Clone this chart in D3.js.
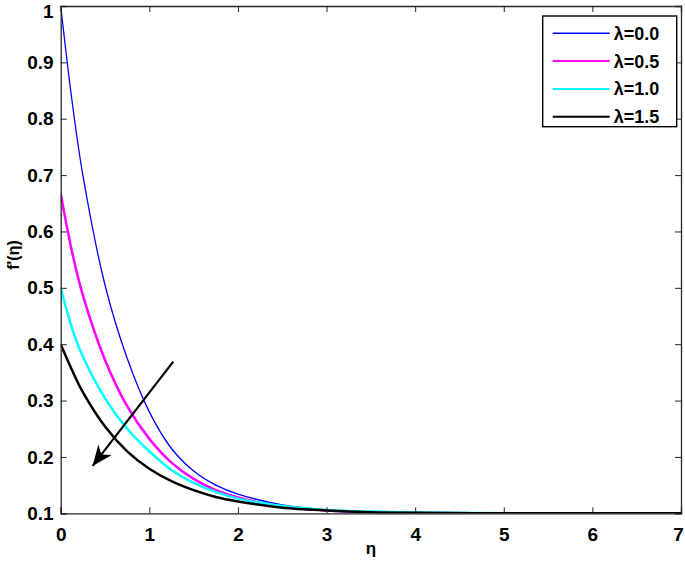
<!DOCTYPE html>
<html>
<head>
<meta charset="utf-8">
<script src="https://cdn.jsdelivr.net/npm/d3@7"></script>
<style>
  html, body { margin: 0; padding: 0; background: #fff; }
  svg { display: block; font-family: "Liberation Sans", Arial, sans-serif; }
</style>
</head>
<body>
<div id="chart"></div>
<script>
// values
const eta = [0, 0.125, 0.25, 0.5, 0.75, 1, 1.25, 1.5, 1.75, 2, 2.5, 3, 3.5, 4, 5, 6, 7];
const lambda00 = [1.0, 0.835, 0.70, 0.505, 0.375, 0.28, 0.215, 0.175, 0.15, 0.134, 0.115, 0.106, 0.102, 0.101, 0.1, 0.1, 0.1];
const lambda05 = [0.667, 0.566, 0.487, 0.372, 0.29, 0.232, 0.19, 0.161, 0.141, 0.128, 0.112, 0.105, 0.102, 0.101, 0.1, 0.1, 0.1];
const lambda10 = [0.5, 0.43, 0.378, 0.304, 0.25, 0.21, 0.177, 0.154, 0.138, 0.126, 0.113, 0.106, 0.103, 0.1015, 0.1, 0.1, 0.1];
const lambda15 = [0.4, 0.355, 0.315, 0.254, 0.21, 0.179, 0.157, 0.141, 0.129, 0.121, 0.11, 0.105, 0.102, 0.101, 0.1, 0.1, 0.1];

const seriesNames = ["\u03bb=0.0", "\u03bb=0.5", "\u03bb=1.0", "\u03bb=1.5"];
const seriesColors = ["#0000ff", "#ff00ff", "#00ffff", "#000000"];
const seriesWidths = [1.3, 2.5, 2.5, 2.5];
const xTicks = [0, 1, 2, 3, 4, 5, 6, 7];
const yTicks = [0.1, 0.2, 0.3, 0.4, 0.5, 0.6, 0.7, 0.8, 0.9, 1];

// arrow showing the direction of increasing lambda (start, tip) in data units
const arrowFrom = [1.27, 0.369];
const arrowTo = [0.36, 0.184];

const W = 685, H = 565;
const margin = { left: 60.7, right: 4, top: 6, bottom: 51.7 };

const svg = d3.select("#chart").append("svg")
  .attr("width", W)
  .attr("height", H);

const x = d3.scaleLinear().domain([0, 7]).range([margin.left, W - margin.right]);
const y = d3.scaleLinear().domain([0.1, 1]).range([H - margin.bottom, margin.top]);

const defs = svg.append("defs");
defs.append("clipPath").attr("id", "plot-clip")
  .append("rect")
  .attr("x", x(0)).attr("y", y(1))
  .attr("width", x(7) - x(0)).attr("height", y(0.1) - y(1));

defs.append("marker")
  .attr("id", "arrow-head")
  .attr("viewBox", "0 -5 12 10")
  .attr("refX", 12)
  .attr("refY", 0)
  .attr("markerUnits", "userSpaceOnUse")
  .attr("markerWidth", 21)
  .attr("markerHeight", 17)
  .attr("orient", "auto")
  .append("path")
  .attr("d", "M0,-5L12,0L0,5L3.5,0Z")
  .attr("fill", "#000");

// curves
const allSeries = [lambda00, lambda05, lambda10, lambda15];
const line = d3.line()
  .x((d, i) => x(eta[i]))
  .y((d) => y(d))
  .curve(d3.curveCatmullRom.alpha(0.5));

svg.append("g")
  .attr("clip-path", "url(#plot-clip)")
  .selectAll("path")
  .data(allSeries)
  .join("path")
  .attr("d", (d) => line(d))
  .attr("fill", "none")
  .attr("stroke", (d, i) => seriesColors[i])
  .attr("stroke-width", (d, i) => seriesWidths[i]);

// arrow
svg.append("line")
  .attr("x1", x(arrowFrom[0])).attr("y1", y(arrowFrom[1]))
  .attr("x2", x(arrowTo[0])).attr("y2", y(arrowTo[1]))
  .attr("stroke", "#000")
  .attr("stroke-width", 2.2)
  .attr("marker-end", "url(#arrow-head)");

// axes: ticks inward, matlab style box
const tickLen = 6;
const axisColor = "#262626";

const xAxis = svg.append("g")
  .attr("transform", `translate(0,${y(0.1)})`)
  .call(d3.axisBottom(x).tickValues(xTicks).tickSize(-tickLen).tickPadding(14).tickFormat(d3.format("d")));
const yAxis = svg.append("g")
  .attr("transform", `translate(${x(0)},0)`)
  .call(d3.axisLeft(y).tickValues(yTicks).tickSize(-tickLen).tickPadding(7).tickFormat((d) => d === 1 ? "1" : d3.format(".1f")(d)));
const xTop = svg.append("g")
  .attr("transform", `translate(0,${y(1)})`)
  .call(d3.axisTop(x).tickValues(xTicks).tickSize(-tickLen).tickFormat(""));
const yRight = svg.append("g")
  .attr("transform", `translate(${x(7)},0)`)
  .call(d3.axisRight(y).tickValues(yTicks).tickSize(-tickLen).tickFormat(""));

[xAxis, yAxis, xTop, yRight].forEach((g) => {
  g.select(".domain").attr("stroke", axisColor).attr("stroke-width", 1.3);
  g.selectAll(".tick line").attr("stroke", axisColor).attr("stroke-width", 1);
  g.selectAll(".tick text")
    .attr("fill", "#000")
    .style("font-size", "19px")
    .style("font-weight", "bold")
    .style("font-family", "'Liberation Sans', Arial, sans-serif");
});

// keep the edge labels inside the picture
xAxis.selectAll(".tick text").filter((d) => d === 7).attr("dx", "-3");
yAxis.selectAll(".tick text").filter((d) => d === 1).attr("dy", "0.62em");

// axis titles
svg.append("text")
  .attr("x", x(3.5))
  .attr("y", 554)
  .attr("text-anchor", "middle")
  .style("font-size", "17px")
  .style("font-weight", "bold")
  .text("\u03b7");

svg.append("text")
  .attr("transform", "translate(19,255) rotate(-90)")
  .attr("text-anchor", "middle")
  .style("font-size", "16px")
  .style("font-weight", "bold")
  .text("f'(\u03b7)");

// legend
const legend = svg.append("g").attr("transform", "translate(542.7,16)");
legend.append("rect")
  .attr("width", 134)
  .attr("height", 110.7)
  .attr("fill", "#fff")
  .attr("stroke", "#000")
  .attr("stroke-width", 1.4);

const rows = legend.selectAll("g.row")
  .data(seriesNames)
  .join("g")
  .attr("class", "row")
  .attr("transform", (d, i) => `translate(0,${17.3 + i * 27.8})`);

rows.append("line")
  .attr("x1", 10).attr("x2", 67)
  .attr("stroke", (d, i) => seriesColors[i])
  .attr("stroke-width", (d, i) => i === 0 ? 1.6 : 2);

rows.append("text")
  .attr("x", 71)
  .attr("y", 6.5)
  .style("font-size", "18px")
  .style("font-weight", "bold")
  .text((d) => d);
</script>
</body>
</html>
